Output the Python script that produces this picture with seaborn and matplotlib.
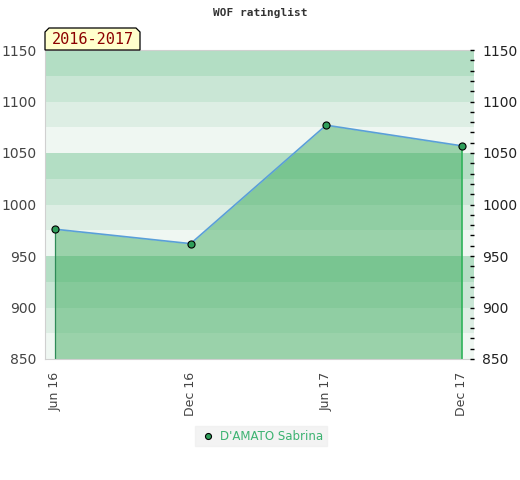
import matplotlib
matplotlib.use('Agg')
import matplotlib.pyplot as plt
from matplotlib.patches import Polygon
from matplotlib.ticker import MultipleLocator
import seaborn as sns
import pandas as pd

# ratings
periods = ['Jun 16', 'Dec 16', 'Jun 17', 'Dec 17']
months = [0, 6, 12, 18]
ratings = [976, 962, 1077, 1057]
player = "D'AMATO Sabrina"
season = '2016-2017'

df = pd.DataFrame({'month': months, 'rating': ratings, 'player': player})

sns.set_style('white')
fig = plt.figure(figsize=(5.2, 4.8), dpi=100)
ax = fig.add_axes([45 / 520, 1 - 359 / 480, 429 / 520, 309 / 480])

y_lo, y_hi = 850, 1150
band_cols = ['#b3dec4', '#c9e6d5', '#ddeee4', '#eff7f2']
k = 0
for top in range(y_hi, y_lo, -25):
    ax.axhspan(top - 25, top, color=band_cols[k % 4], lw=0, zorder=0)
    k += 1

ax.fill_between(df['month'], df['rating'], y_lo, color='#33a754', alpha=0.45, lw=0, zorder=1)
ax.vlines(months[0], y_lo, ratings[0], color='#2e8b57', lw=0.9, zorder=2)
ax.vlines(months[-1], y_lo, ratings[-1], color='#2eb35a', lw=1.2, zorder=2)

sns.lineplot(data=df, x='month', y='rating', ax=ax, color='#5a9fd8', lw=1.2, zorder=3, legend=False)
sns.scatterplot(data=df, x='month', y='rating', ax=ax, color='#2e9e5a', edgecolor='black',
                linewidth=0.8, s=26, zorder=4, label=player)

ax.set_xlim(-0.45, 18.55)
ax.set_ylim(y_lo, y_hi)
ax.set_xticks(months)
ax.set_xticklabels(periods, rotation=90, color='#444444', fontsize=9)
ax.set_yticks(range(850, 1151, 50))
ax.tick_params(axis='y', labelsize=10, labelcolor='#444444', length=0, pad=6)
ax.tick_params(axis='x', length=0, pad=9)
ax.set_xlabel('')
ax.set_ylabel('')
for s in ax.spines.values():
    s.set_color('#d0d0d0')
ax.spines['right'].set_visible(False)

ax2 = ax.twinx()
ax2.set_ylim(y_lo, y_hi)
ax2.set_yticks(range(850, 1151, 50))
ax2.yaxis.set_minor_locator(MultipleLocator(10))
ax2.tick_params(axis='y', which='both', direction='in', length=3, width=1, color='black',
                labelsize=10, labelcolor='#222222', pad=6)
for s in ax2.spines.values():
    s.set_visible(False)

fig.text(0.5, 1 - 13 / 480, 'WOF ratinglist', ha='center', va='center',
         family='DejaVu Sans Mono', weight='bold', fontsize=8, color='#333333')

# season tag with clipped top corners
x0, x1, yb, yt = 45 / 520, 140 / 520, 1 - 50 / 480, 1 - 28 / 480
c = 4 / 520
cy = 4 / 480
tag = Polygon([(x0, yb), (x0, yt - cy), (x0 + c, yt), (x1 - c, yt), (x1, yt - cy), (x1, yb)],
              closed=True, transform=fig.transFigure, facecolor='#ffffcc', edgecolor='black', lw=0.9)
fig.patches.append(tag)
fig.text((x0 + x1) / 2, (yb + yt) / 2 - 1 / 480, season, ha='center', va='center',
         family='DejaVu Sans Mono', fontsize=11, color='#8b0000')

leg = ax.legend(loc='center', bbox_to_anchor=(261 / 520, 1 - 436 / 480),
                bbox_transform=fig.transFigure, frameon=True, facecolor='#f0f0f0',
                edgecolor='#f0f0f0', fancybox=False, fontsize=8.5, handletextpad=0.2,
                handlelength=1.6, borderpad=0.3, borderaxespad=0, markerscale=0.85)
for t in leg.get_texts():
    t.set_color('#3cb371')

fig.savefig('out.png', dpi=100)
